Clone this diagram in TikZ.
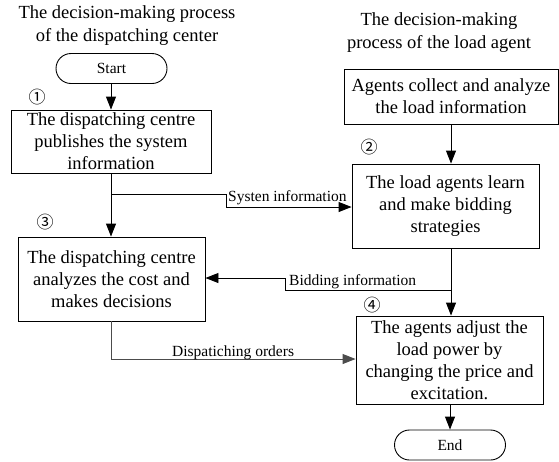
\documentclass[tikz,border=0pt]{standalone}
\usepackage{fontspec}
\setmainfont{Liberation Serif}
\newfontfamily\circfont{Noto Sans CJK SC}
\usetikzlibrary{arrows.meta,shapes.misc}
\begin{document}
\begin{tikzpicture}[x=1pt,y=-1pt,
  box/.style={draw,line width=0.9pt,inner sep=0pt,align=center,font=\fontsize{18.5}{22}\selectfont},
  term/.style={draw,line width=0.9pt,rounded rectangle,inner sep=0pt,minimum width=111pt,minimum height=30pt,font=\fontsize{15.5}{18}\selectfont},
  conn/.style={line width=0.9pt,-{Triangle[length=13pt,width=10pt]}},
  lab/.style={font=\fontsize{15.5}{18}\selectfont,inner sep=0pt},
  ttl/.style={align=center,font=\fontsize{18.5}{23}\selectfont,inner sep=0pt},
  num/.style={font=\circfont\fontsize{17}{18}\selectfont,inner sep=0pt}]
\useasboundingbox (0,0) rectangle (559,461);
% titles
\node[ttl] (t1) at (127,25.5) {The decision-making process\\of the dispatching center};
\node[ttl] (t2) at (439,33) {The decision-making\\process of the load agent};
% terminals
\node[term] (start) at (111.5,68.5) {Start};
\node[term] (end) at (450,445) {End};
% boxes
\node[box,minimum width=200pt,minimum height=63pt] (b1) at (111,141.5) {The dispatching centre\\publishes the system\\information};
\node[box,minimum width=214pt,minimum height=55pt] (ba) at (451,96.5) {Agents collect and analyze\\the load information};
\node[box,minimum width=187pt,minimum height=84pt] (b2) at (445.5,206) {The load agents learn\\and make bidding\\strategies};
\node[box,minimum width=187pt,minimum height=84pt] (b3) at (111.5,279) {The dispatching centre\\analyzes the cost and\\makes decisions};
\node[box,minimum width=187pt,minimum height=88pt] (b4) at (449.5,360) {The agents adjust the\\load power by\\changing the price and\\excitation.};
% numbers
\node[num] (n1) at (37,97) {①};
\node[num] (n2) at (369,147) {②};
\node[num] (n3) at (45,222) {③};
\node[num] (n4) at (372,305) {④};
% helper coordinates
\coordinate (s0) at (111,194);
\coordinate (s1) at (226,194);
\coordinate (s2) at (226,207);
\coordinate (d0) at (451,290);
\coordinate (d1) at (285,290);
\coordinate (d2) at (285,278);
\coordinate (o0) at (111,321);
\coordinate (o1) at (111,359);
% connectors
\draw[conn] (start.south -| 111,0) -- (b1.north -| 111,0);
\draw[conn] (b1.south -| 111,0) -- (b3.north -| 111,0);
\draw[line width=0.9pt] (s0) -- (s1) -- (s2);
\draw[conn] (s2) -- (b2.west |- s2);
\draw[conn] (ba.south -| 451,0) -- (b2.north -| 451,0);
\draw[conn] (b2.south -| 451,0) -- (b4.north -| 451,0);
\draw[line width=0.9pt] (d0) -- (d1) -- (d2);
\draw[conn] (d2) -- (b3.east |- d2);
\draw[line width=0.9pt,black!70] (o0) -- (o1);
\draw[conn,black!70] (o1) -- (b4.west |- o1);
\draw[conn] (b4.south -| 450,0) -- (end.north -| 450,0);
% labels
\node[lab,anchor=base west] (l1) at (228,201) {Systen information};
\node[lab,anchor=base west] (l2) at (289,285) {Bidding information};
\node[lab,anchor=base west] (l3) at (172,356) {Dispatiching orders};
\end{tikzpicture}
\end{document}
